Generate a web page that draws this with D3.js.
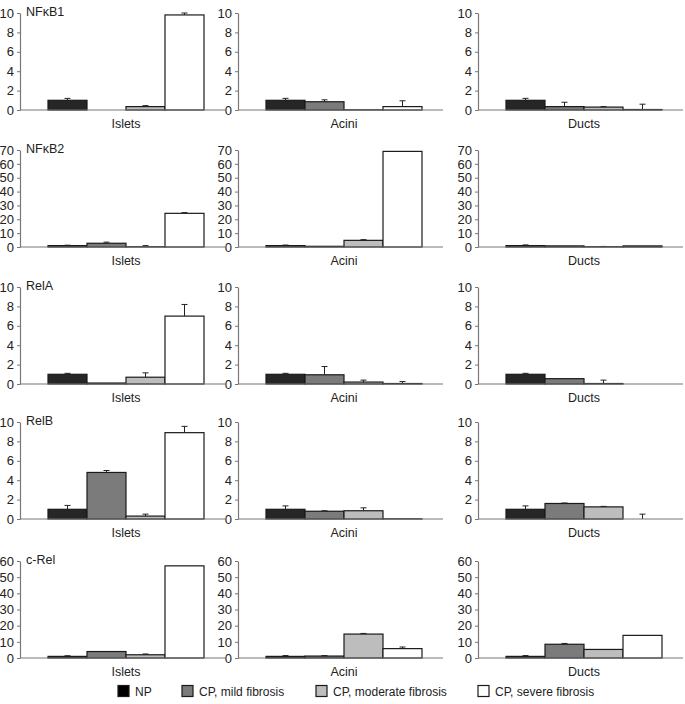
<!DOCTYPE html>
<html><head><meta charset="utf-8">
<script src="https://cdn.jsdelivr.net/npm/d3@7"></script>
<style>
body{margin:0;background:#fff;}
svg{display:block;font-family:"Liberation Sans",Arial,sans-serif;}
</style></head>
<body><svg id="c" width="685" height="704"></svg>
<script>
const genes = ["NF\u03baB1", "NF\u03baB2", "RelA", "RelB", "c-Rel"];
const tissues = ["Islets", "Acini", "Ducts"];
const groups = ["NP", "CP, mild fibrosis", "CP, moderate fibrosis", "CP, severe fibrosis"];
const groupColors = ["#262626", "#7b7b7b", "#bdbdbd", "#ffffff"];
const legendColors = ["#000000", "#7b7b7b", "#bdbdbd", "#ffffff"];
const yMaxes = [10, 70, 10, 10, 60];
const yTickSteps = [2, 10, 2, 2, 10];

// values[tissue][group]
const nfkb1Values = [[1.0, 0, 0.35, 9.8], [1.0, 0.85, 0.02, 0.35], [1.0, 0.35, 0.3, 0.05]];
const nfkb1Errors = [[0.2, 0, 0.1, 0.2], [0.2, 0.2, 0, 0.6], [0.2, 0.45, 0.05, 0.55]];
const nfkb2Values = [[1.0, 2.7, 0.2, 24.3], [1.0, 0.5, 4.8, 69], [1.0, 0.8, 0.2, 0.8]];
const nfkb2Errors = [[0.3, 0.8, 0.8, 0.5], [0.4, 0, 0.5, 0], [0.5, 0, 0.2, 0]];
const relaValues = [[1.0, 0.1, 0.7, 7.0], [1.0, 0.95, 0.2, 0.05], [1.0, 0.55, 0.05, 0]];
const relaErrors = [[0.1, 0, 0.45, 1.2], [0.1, 0.85, 0.2, 0.2], [0.1, 0, 0.35, 0]];
const relbValues = [[1.0, 4.8, 0.3, 8.9], [1.0, 0.8, 0.85, 0.02], [1.0, 1.6, 1.25, 0]];
const relbErrors = [[0.4, 0.2, 0.2, 0.65], [0.35, 0.05, 0.3, 0], [0.35, 0.05, 0.05, 0.5]];
const crelValues = [[1.0, 4.0, 2.0, 57], [1.0, 1.2, 14.8, 5.8], [1.0, 8.5, 5.3, 14]];
const crelErrors = [[0.4, 0, 0.5, 0], [0.5, 0.3, 0.4, 1.0], [0.5, 0.5, 0, 0]];

const allValues = [nfkb1Values, nfkb2Values, relaValues, relbValues, crelValues];
const allErrors = [nfkb1Errors, nfkb2Errors, relaErrors, relbErrors, crelErrors];

// layout
const colX = [20, 238, 478];
const axisLen = 205;
const rowTop = [13, 150, 287, 422, 561];
const plotH = 97;

const svg = d3.select("#c");
const xBand = d3.scaleBand().domain(groups).range([28, 184]).padding(0);

genes.forEach((gene, gi) => {
  const y = d3.scaleLinear().domain([0, yMaxes[gi]]).range([rowTop[gi] + plotH, rowTop[gi]]);
  const ticks = d3.range(0, yMaxes[gi] + 0.001, yTickSteps[gi]);
  tissues.forEach((tissue, ti) => {
    const g = svg.append("g").attr("transform", `translate(${colX[ti]},0)`);
    const ax = g.append("g").call(d3.axisLeft(y).tickValues(ticks).tickSize(3).tickPadding(3).tickSizeOuter(0));
    ax.select(".domain").attr("stroke", "#777").attr("stroke-width", 1.2);
    ax.selectAll(".tick line").attr("stroke", "#777");
    ax.selectAll(".tick text").attr("font-size", 13).attr("fill", "#222")
      .attr("font-family", "'Liberation Sans',Arial,sans-serif");
    const vals = allValues[gi][ti];
    const errs = allErrors[gi][ti];
    groups.forEach((grp, k) => {
      const v = vals[k];
      if (v > 0) {
        g.append("rect")
          .attr("x", xBand(grp)).attr("y", y(v))
          .attr("width", xBand.bandwidth()).attr("height", y(0) - y(v))
          .attr("fill", groupColors[k]).attr("stroke", "#1a1a1a").attr("stroke-width", 1.2);
      }
      const e = errs[k];
      if (e > 0) {
        const cx = xBand(grp) + xBand.bandwidth() / 2;
        g.append("line").attr("x1", cx).attr("x2", cx).attr("y1", y(v)).attr("y2", y(v + e))
          .attr("stroke", "#222").attr("stroke-width", 1);
        g.append("line").attr("x1", cx - 3).attr("x2", cx + 3).attr("y1", y(v + e)).attr("y2", y(v + e))
          .attr("stroke", "#222").attr("stroke-width", 1);
      }
    });
    g.append("line").attr("x1", 0).attr("x2", axisLen).attr("y1", y(0)).attr("y2", y(0))
      .attr("stroke", "#777").attr("stroke-width", 1.2);
    g.append("text").attr("x", 28 + 78).attr("y", y(0) + 18).attr("text-anchor", "middle")
      .attr("font-size", 12.5).attr("fill", "#222").text(tissue);
    if (ti === 0) {
      g.append("text").attr("x", 6).attr("y", rowTop[gi] + 3).attr("font-size", 12.5)
        .attr("fill", "#222").text(gene);
    }
  });
});

// legend: squares placed from reference measurements
const legendSquareX = [118, 182, 316, 478];
const legendY = 691;
groups.forEach((grp, k) => {
  const x = legendSquareX[k];
  svg.append("rect").attr("x", x).attr("y", legendY - 5.5).attr("width", 11).attr("height", 11)
    .attr("fill", legendColors[k]).attr("stroke", "#1a1a1a").attr("stroke-width", 1.2);
  svg.append("text").attr("x", x + 17).attr("y", legendY + 4.5).attr("font-size", 12)
    .attr("fill", "#222").text(grp);
});
</script>
</body></html>
